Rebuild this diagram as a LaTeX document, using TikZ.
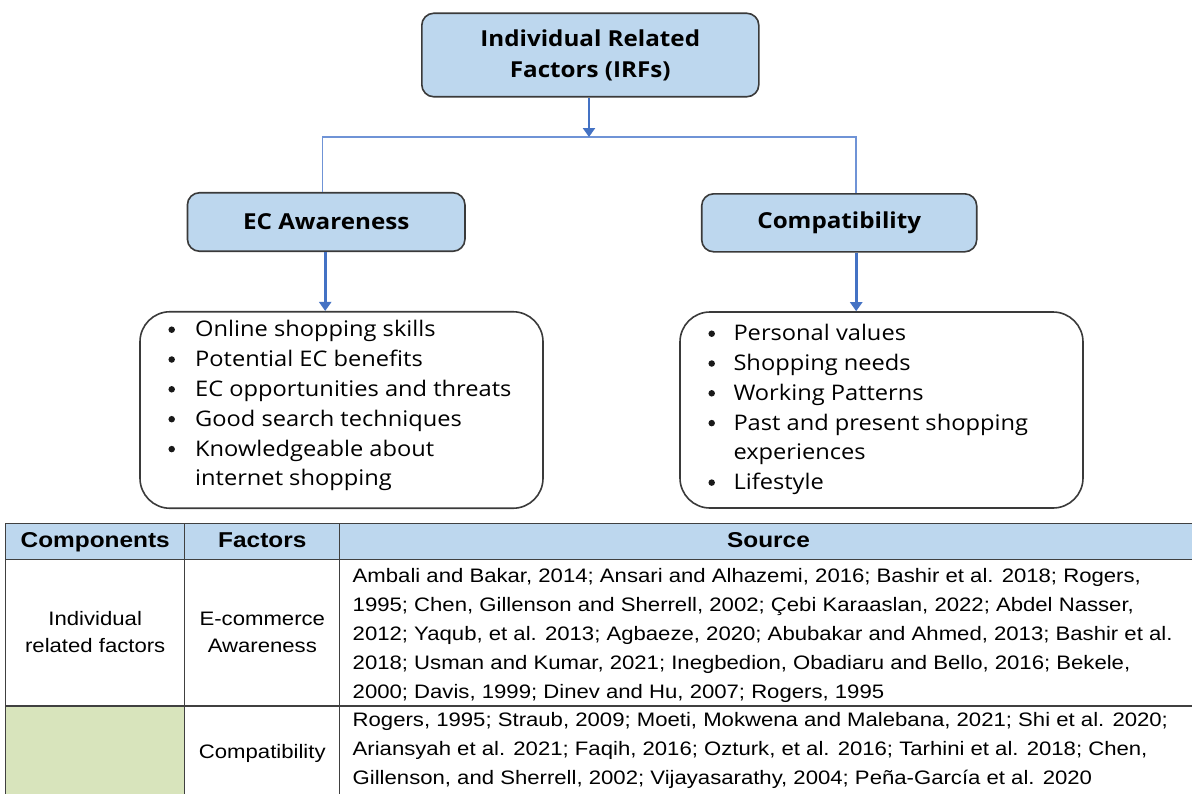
\documentclass[tikz,border=0pt]{standalone}
\usepackage{fontspec}
\setmainfont{Open Sans}[FakeStretch=1.1]
\newfontfamily\tabfont{Liberation Sans}[FakeStretch=1.135]
\usetikzlibrary{arrows.meta}

\definecolor{boxblue}{HTML}{BDD7EE}
\definecolor{linkblue}{HTML}{4472C4}
\definecolor{branchblue}{HTML}{6F93D6}
\definecolor{edgegray}{HTML}{3A3A3A}
\definecolor{rulegray}{HTML}{404040}
\definecolor{cellgreen}{HTML}{D8E4BC}

\tikzset{
  factorbox/.style={draw=edgegray, line width=1.6pt, fill=boxblue, rounded corners=12pt,
    inner sep=0pt, align=center, font=\bfseries\fontsize{22}{31}\selectfont},
  listbox/.style={draw=edgegray, line width=1.6pt, rounded corners=30pt, inner sep=0pt},
  mainarrow/.style={draw=linkblue, line width=2.6pt,
    -{Triangle[length=9pt,width=12pt]}},
  branch/.style={draw=branchblue, line width=1.5pt},
  itemtext/.style={anchor=base west, inner sep=0pt, font=\fontsize{21.5}{26}\selectfont},
  itemdot/.style={circle, fill=black!90, inner sep=0pt, minimum size=6.5pt},
  cell/.style={draw=rulegray, line width=1.3pt},
  headtext/.style={anchor=base, inner sep=0pt, font=\tabfont\bfseries\fontsize{21.5}{26}\selectfont},
  bodytext/.style={anchor=base, inner sep=0pt, font=\tabfont\fontsize{19.5}{24}\selectfont},
  srctext/.style={anchor=base west, inner sep=0pt, font=\tabfont\fontsize{19.5}{24}\selectfont},
}

\begin{document}
\begin{tikzpicture}[x=1pt, y=-1pt]
\useasboundingbox (0,0) rectangle (1192,793);
\fill[white] (0,0) rectangle (1192,793);
\clip (0,0) rectangle (1192,793);

% ---- factor hierarchy ----
\node[factorbox, minimum width=337pt, minimum height=83.5pt] (irf) at (590.3,55)
  {Individual Related\\Factors (IRFs)};
\node[factorbox, minimum width=277.5pt, minimum height=58.5pt] (ec) at (326.2,222)
  {EC Awareness};
\node[factorbox, minimum width=275pt, minimum height=58pt] (compat) at (839.2,222.8)
  {Compatibility};

\node[listbox, minimum width=403pt, minimum height=196.5pt] (lbox) at (341.5,410) {};
\node[listbox, minimum width=403pt, minimum height=196pt] (rbox) at (881.5,410) {};

\coordinate (hub) at (589,137);
\draw[branch] ([xshift=-3.5pt]ec.north) |- (hub) -| ([xshift=17pt]compat.north);
\draw[mainarrow] (irf.south -| hub) -- (hub);
\draw[mainarrow] ([xshift=-1pt]ec.south) -- ([xshift=-1pt]ec.south |- lbox.north);
\draw[mainarrow] ([xshift=17pt]compat.south) -- ([xshift=17pt]compat.south |- rbox.north);

% left list
\node[itemdot] (ld1) at (171.7,329.7) {};
\node[itemtext] (lt1) at (195,336.7) {Online shopping skills};
\node[itemdot] (ld2) at (171.7,359.5) {};
\node[itemtext] (lt2) at (195,366.5) {Potential EC benefits};
\node[itemdot] (ld3) at (171.7,389.3) {};
\node[itemtext] (lt3) at (195,396.3) {EC opportunities and threats};
\node[itemdot] (ld4) at (171.7,419.2) {};
\node[itemtext] (lt4) at (195,426.2) {Good search techniques};
\node[itemdot] (ld5) at (171.7,449.1) {};
\node[itemtext] (lt5) at (195,456.1) {Knowledgeable about};
\node[itemtext] (lt6) at (195,485.9) {internet shopping};

% right list
\node[itemdot] (rd1) at (711.7,333.7) {};
\node[itemtext] (rt1) at (733.3,340.7) {Personal values};
\node[itemdot] (rd2) at (711.7,363.5) {};
\node[itemtext] (rt2) at (733.3,370.5) {Shopping needs};
\node[itemdot] (rd3) at (711.7,393.3) {};
\node[itemtext] (rt3) at (733.3,400.3) {Working Patterns};
\node[itemdot] (rd4) at (711.7,423.1) {};
\node[itemtext] (rt4) at (733.3,430.1) {Past and present shopping};
\node[itemtext] (rt5) at (733.3,459.9) {experiences};
\node[itemdot] (rd6) at (711.7,482.6) {};
\node[itemtext] (rt6) at (733.3,489.6) {Lifestyle};

% ---- sources table ----
\fill[boxblue] (5.7,523.3) rectangle (1197,559.3);
\fill[cellgreen] (5.7,706) rectangle (184.8,800);
\draw[cell] (5.7,523.3) rectangle (184.8,559.3);
\draw[cell] (184.8,523.3) rectangle (339.8,559.3);
\draw[cell] (339.8,523.3) rectangle (1197,559.3);
\draw[cell] (5.7,559.3) rectangle (184.8,706);
\draw[cell] (184.8,559.3) rectangle (339.8,706);
\draw[cell] (339.8,559.3) rectangle (1197,706);
\draw[cell] (5.7,706) rectangle (184.8,800);
\draw[cell] (184.8,706) rectangle (339.8,800);
\draw[cell] (339.8,706) rectangle (1197,800);

\node[headtext] (hcomp) at (95.2,547.5) {Components};
\node[headtext] (hfact) at (262.3,547.5) {Factors};
\node[headtext] (hsrc) at (768.5,547.5) {Source};

\node[bodytext] (comp1a) at (95.2,625) {Individual};
\node[bodytext] (comp1b) at (95.2,652.7) {related factors};
\node[bodytext] (fact1a) at (262.3,625) {E-commerce};
\node[bodytext] (fact1b) at (262.3,652.7) {Awareness};
\node[bodytext] (fact2) at (262.3,758.3) {Compatibility};

\node[srctext] (s11) at (352.5,582) {Ambali and Bakar, 2014; Ansari and Alhazemi, 2016; Bashir et al. 2018; Rogers,};
\node[srctext] (s12) at (352.5,611) {1995; Chen, Gillenson and Sherrell, 2002; Çebi Karaaslan, 2022; Abdel Nasser,};
\node[srctext] (s13) at (352.5,640.5) {2012; Yaqub, et al. 2013; Agbaeze, 2020; Abubakar and Ahmed, 2013; Bashir et al.};
\node[srctext] (s14) at (352.5,669.5) {2018; Usman and Kumar, 2021; Inegbedion, Obadiaru and Bello, 2016; Bekele,};
\node[srctext] (s15) at (352.5,698) {2000; Davis, 1999; Dinev and Hu, 2007; Rogers, 1995};

\node[srctext] (s21) at (352.5,726.5) {Rogers, 1995; Straub, 2009; Moeti, Mokwena and Malebana, 2021; Shi et al. 2020;};
\node[srctext] (s22) at (352.5,755.5) {Ariansyah et al. 2021; Faqih, 2016; Ozturk, et al. 2016; Tarhini et al. 2018; Chen,};
\node[srctext] (s23) at (352.5,784.5) {Gillenson, and Sherrell, 2002; Vijayasarathy, 2004; Peña-García et al. 2020};
\end{tikzpicture}
\end{document}
